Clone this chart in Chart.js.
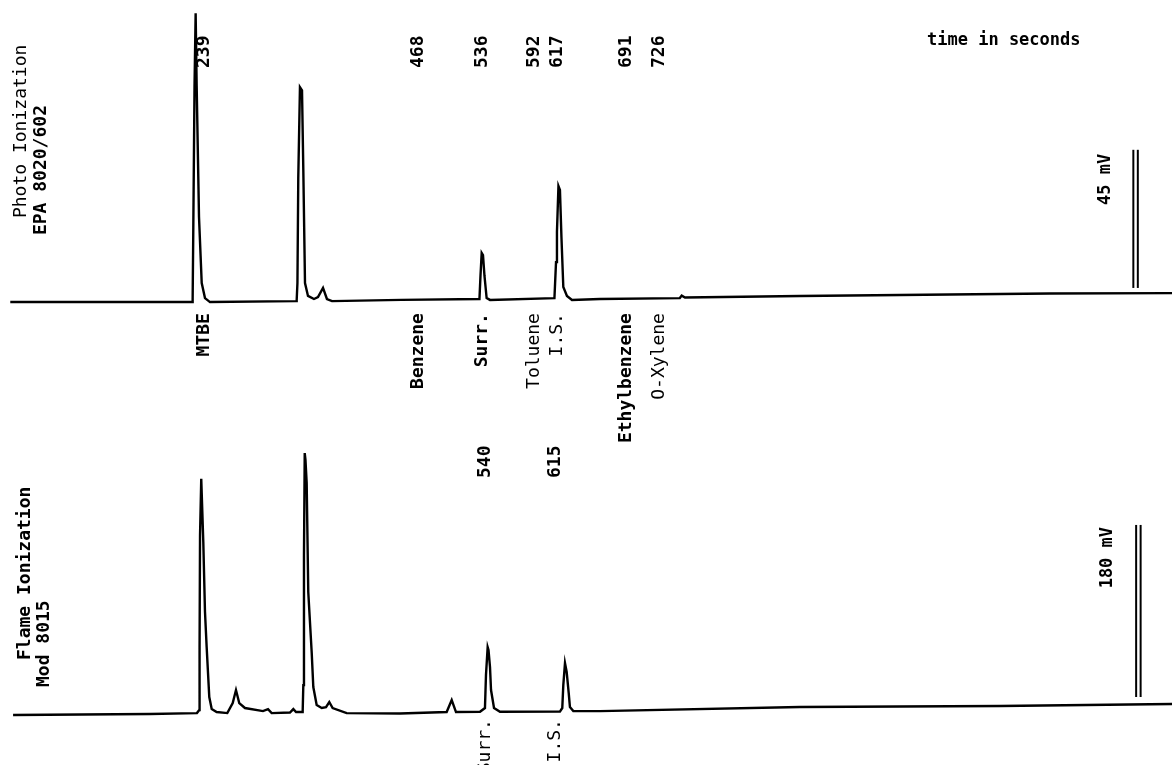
<!DOCTYPE html>
<html>
<head>
<meta charset="utf-8">
<style>
  html, body { margin: 0; padding: 0; background: #ffffff; }
  #wrap { position: relative; width: 1172px; height: 765px; overflow: hidden; }
</style>
<script src="https://cdn.jsdelivr.net/npm/chart.js@4.4.1/dist/chart.umd.min.js"></script>
</head>
<body>
<div id="wrap"><canvas id="chrom" width="1172" height="765"></canvas></div>
<script>
// ---------------- DATA ----------------
// Photo Ionization detector trace (time in seconds, signal in mV)
const photoTime = [31, 225.8, 226.3, 227, 228.3, 229.5, 230.6, 233.1, 236, 239.5, 244.9,
  337, 337.7, 338.5, 339.4, 341.2, 343.4, 344.8, 346.6, 349.8, 356.2, 360.5, 365.9, 370.1, 375.5,
  450, 533.4, 534.5, 535.8, 537.2, 538.8, 541.1, 544.7,
  613.7, 615.4, 616.4, 618, 619.6, 621.2, 623.2, 627.1, 632.5,
  662.5, 748, 750, 753.5, 876.6, 983.7, 1144, 1275];
const photoSignal = [0, 0, 1.3, 24.4, 70.4, 94.1, 70.4, 27.7, 6.2, 1.3, 0,
  0.3, 0.7, 6.2, 40.4, 70, 69, 43, 6.2, 2, 1, 1.6, 4.6, 1, 0.3,
  0.7, 1, 8.5, 16, 15.3, 8.5, 1.3, 0.7,
  1.3, 13, 22.8, 37.8, 36.5, 21.2, 4.9, 2, 0.7,
  1, 1.3, 2.1, 1.5, 2, 2.3, 2.8, 2.9];

// Flame Ionization detector trace (time in seconds, signal in mV)
const flameTime = [34, 180.6, 230.9, 233.4, 233.7, 234.2, 235.5, 237.7, 239.5, 241.3, 244.1, 246.7, 252,
  263.4, 269.2, 272.7, 276.2, 282.3, 301.6, 307, 310.9, 330.5, 334.1, 337,
  344.1, 344.8, 345.5, 346.3, 347.1, 348.4, 350.1, 353.8, 355.5, 359.1, 364.5,
  369.1, 372.6, 376.2, 391.2, 448.3, 498.3, 503.7, 508.3,
  534, 539.3, 540.4, 542.2, 543.1, 544.7, 545.8, 549, 555.4,
  619.6, 622.1, 623.2, 625, 626.8, 629, 630.3, 633.9,
  662.5, 876.6, 1090.8, 1275];
const flameSignal = [-1, 0, 1, 4.2, 70, 187, 246, 180, 107, 70, 17.8, 5.2, 2.1,
  1, 11.5, 25.1, 11.5, 6.3, 3.1, 5.2, 1, 1.6, 5.2, 2.1,
  2.1, 30.3, 166, 273, 266, 241.6, 127.6, 63.8, 28.2, 9.4, 6.3,
  7.3, 12.6, 6.3, 1, 0.5, 2.1, 14.6, 2.1,
  2.4, 6.3, 40.8, 70, 67, 49.2, 25.1, 6.3, 2.4,
  2.6, 6.3, 30.3, 53.3, 44, 22, 7.3, 3.1,
  3.1, 7.3, 8.4, 10.5];

// Retention time labels and compound names
const photoPeakTimes = [239, 468, 536, 592, 617, 691, 726];
const photoCompounds = ['MTBE', 'Benzene', 'Surr.', 'Toluene', 'I.S.', 'Ethylbenzene', 'O-Xylene'];
const flamePeakTimes = [540, 615];
const flameCompounds = ['Surr.', 'I.S.'];

// Detector titles
const photoTitle = ['Photo Ionization', 'EPA 8020/602'];
const flameTitle = ['Flame Ionization', 'Mod 8015'];
const timeAxisTitle = 'time in seconds';

// Scale bars (mV span, starting level, time position)
const photoScaleMv = 45, photoScaleBase = 4.6, photoScaleTime = 1236;
const flameScaleMv = 180, flameScaleBase = 17.8, flameScaleTime = 1239;

// ---------------- build datasets ----------------
const toXY = (ts, vs) => ts.map((t, i) => ({ x: t, y: vs[i] }));
const barGap = 2.4; // seconds either side of the scale-bar centre (double rule)
function scaleBar(t, base, span, axis) {
  return [-barGap, barGap].map(d => ({
    data: [{ x: t + d, y: base }, { x: t + d, y: base + span }],
    yAxisID: axis, borderColor: '#000', borderWidth: 2, pointRadius: 0
  }));
}

const FONT = '"DejaVu Sans Mono", "Liberation Mono", monospace';

const labelPlugin = {
  id: 'chromLabels',
  afterDatasetsDraw(chart) {
    const ctx = chart.ctx;
    const xs = chart.scales.x, yT = chart.scales.yTop, yB = chart.scales.yBot;
    const top = chart.chartArea.top;
    function vtext(str, x, y, align, weight, size) {
      ctx.save();
      ctx.translate(x, y);
      ctx.rotate(-Math.PI / 2);
      ctx.font = (weight || 'bold') + ' ' + (size || 18) + 'px ' + FONT;
      ctx.fillStyle = '#000';
      ctx.textAlign = align;
      ctx.textBaseline = 'middle';
      ctx.fillText(str, 0, 0);
      ctx.restore();
    }
    const photoBase = yT.getPixelForValue(0);
    const flameBase = yB.getPixelForValue(0);
    // retention times above the photo trace, names below
    photoPeakTimes.forEach((t, i) => {
      const px = xs.getPixelForValue(t);
      vtext(String(t), px, top + 68, 'left');
      vtext(photoCompounds[i], px, photoBase + 11, 'right', i === 3 || i === 4 || i === 6 ? 'normal' : 'bold');
    });
    flamePeakTimes.forEach((t, i) => {
      const px = xs.getPixelForValue(t);
      vtext(String(t), px, flameBase - 236, 'left');
      vtext(flameCompounds[i], px, flameBase + 5, 'right', 'normal');
    });
    // detector titles
    vtext(photoTitle[0], 21, photoBase - 84, 'left', 'normal');
    vtext(photoTitle[1], 41, photoBase - 67, 'left', 'bold');
    vtext(flameTitle[0], 25, flameBase - 54, 'left', 'bold');
    vtext(flameTitle[1], 44, flameBase - 27, 'left', 'bold');
    // scale bar captions
    const pBarX = xs.getPixelForValue(photoScaleTime);
    vtext(photoScaleMv + ' mV', pBarX - 30, yT.getPixelForValue(photoScaleBase + photoScaleMv) + 4, 'right', 'bold', 17);
    const fBarX = xs.getPixelForValue(flameScaleTime);
    vtext(flameScaleMv + ' mV', fBarX - 31, yB.getPixelForValue(flameScaleBase + flameScaleMv) + 2, 'right', 'bold', 17);
    // time axis caption
    ctx.save();
    ctx.font = 'bold 17px ' + FONT;
    ctx.fillStyle = '#000';
    ctx.textAlign = 'left';
    ctx.textBaseline = 'alphabetic';
    ctx.fillText(timeAxisTitle, 927, top + 45);
    ctx.restore();
  }
};

new Chart(document.getElementById('chrom'), {
  type: 'line',
  data: {
    datasets: [
      { label: 'Photo Ionization', data: toXY(photoTime, photoSignal), yAxisID: 'yTop',
        borderColor: '#000', borderWidth: 2.4, pointRadius: 0, tension: 0 },
      { label: 'Flame Ionization', data: toXY(flameTime, flameSignal), yAxisID: 'yBot',
        borderColor: '#000', borderWidth: 2.4, pointRadius: 0, tension: 0 },
      ...scaleBar(photoScaleTime, photoScaleBase, photoScaleMv, 'yTop'),
      ...scaleBar(flameScaleTime, flameScaleBase, flameScaleMv, 'yBot')
    ]
  },
  options: {
    responsive: false,
    animation: false,
    devicePixelRatio: 1,
    layout: { padding: 0 },
    parsing: true,
    plugins: { legend: { display: false }, tooltip: { enabled: false }, title: { display: false } },
    scales: {
      x: { type: 'linear', min: 20, max: 1275, display: false },
      yTop: { type: 'linear', position: 'left', min: -150.8, max: 98.4, display: false },
      yBot: { type: 'linear', position: 'left', min: -53.3, max: 746.9, display: false }
    }
  },
  plugins: [labelPlugin]
});
</script>
</body>
</html>
